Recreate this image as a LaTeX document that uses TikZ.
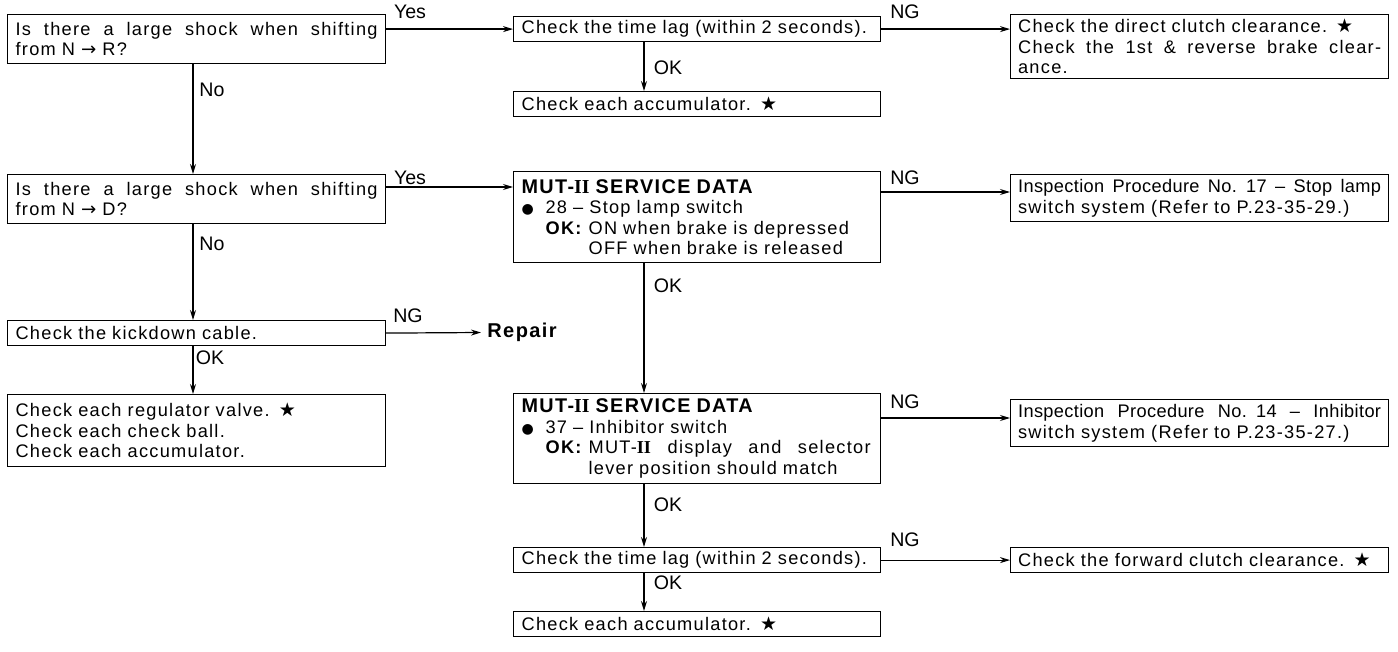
\documentclass[tikz,border=0pt]{standalone}
\usepackage{fontspec}
\setmainfont{Liberation Sans}[LetterSpace=7]
\newfontfamily\lblfont{Liberation Sans}
\newfontfamily\tightfont{Liberation Sans}[LetterSpace=2]
\newfontfamily\starfont{DejaVu Sans}
\newfontfamily\romfont{Liberation Serif}
\usetikzlibrary{arrows.meta,calc}
\newcommand\strk{{\starfont\fontsize{9.5pt}{10pt}\selectfont ★}}
\newcommand\rarr{{\starfont →}}
\newcommand\bul{{\starfont\fontsize{7pt}{8pt}\selectfont ●}}
\newcommand\jl[2]{\makebox[#1][s]{\spaceskip=\fontdimen2\font plus 1fil\relax #2}}
\newcommand\rom[1]{{\romfont\bfseries #1}}
\newcommand\mhead{{\fontsize{9.9pt}{10.25pt}\selectfont\bfseries MUT-\rom{II} SERVICE DATA}}
\begin{document}
\begin{tikzpicture}[x=0.5pt,y=-0.5pt,
  box/.style={draw, line width=0.6pt, anchor=north west, inner xsep=4pt, inner ysep=0pt,
    align=left, font=\fontsize{9.1pt}{10.25pt}\selectfont},
  boxL/.style={box, text width=181pt},
  boxM/.style={box, text width=175.5pt},
  boxR/.style={box, inner xsep=3.75pt, text width=181.5pt},
  arr/.style={line width=0.6pt, -{Stealth[length=5pt,width=3pt]}},
  lbl/.style={inner sep=0pt, font=\lblfont\fontsize{9.8pt}{11pt}\selectfont}]
\useasboundingbox (0,0) rectangle (1398,652);

% left column
\node[boxL, minimum height=24.5pt] (Q1) at (7,14)
  {\jl{181pt}{Is there a large shock when shifting}\\from N \rarr\ R?};
\node[boxL, minimum height=24.5pt] (Q2) at (7,174)
  {\jl{181pt}{Is there a large shock when shifting}\\from N \rarr\ D?};
\node[boxL, minimum height=12.5pt] (KD) at (7,320) {Check the kickdown cable.};
\node[boxL, minimum height=36pt] (REG) at (7,394)
  {Check each regulator valve. \strk\\Check each check ball.\\Check each accumulator.};
\node[inner xsep=3pt, inner ysep=0pt, anchor=west, font=\fontsize{10pt}{12pt}\selectfont\bfseries] (Rep) at (481,332.5) {Repair};

% middle column
\node[boxM, minimum height=12.5pt] (TL1) at (513,16) {Check the time lag (within 2 seconds).};
\node[boxM, minimum height=12.5pt] (ACC1) at (513,91) {Check each accumulator. \strk};
\node[boxM, minimum height=45.5pt] (MUT1) at (513,171)
  {\mhead\\
   \makebox[12pt][l]{\bul}28 – Stop lamp switch\\
   \hspace*{12pt}\makebox[21.5pt][l]{\textbf{OK:}}ON when brake is depressed\\
   \hspace*{33.5pt}OFF when brake is released};
\node[boxM, minimum height=45pt] (MUT2) at (513,393)
  {\mhead\\
   \makebox[12pt][l]{\bul}37 – Inhibitor switch\\
   \hspace*{12pt}\makebox[21.5pt][l]{\textbf{OK:}}\jl{141pt}{MUT-\rom{II} display and selector}\\
   \hspace*{33.5pt}lever position should match};
\node[boxM, minimum height=12.5pt] (TL2) at (513,547) {Check the time lag (within 2 seconds).};
\node[boxM, minimum height=12.5pt] (ACC2) at (513,611) {Check each accumulator. \strk};

% right column
\node[boxR, minimum height=32pt] (DC) at (1010,14)
  {Check the direct clutch clearance. \strk\\\jl{181.5pt}{Check the 1st \& reverse brake clear-}\\ance.};
\node[boxR, minimum height=23.5pt] (IP17) at (1010,174)
  {\jl{181.5pt}{\tightfont Inspection Procedure No. 17 – Stop lamp}\\switch system (Refer to P.23-35-29.)};
\node[boxR, minimum height=23.5pt] (IP14) at (1010,399)
  {\jl{181.5pt}{\tightfont Inspection Procedure No. 14 – Inhibitor}\\switch system (Refer to P.23-35-27.)};
\node[boxR, minimum height=12.5pt] (FC) at (1010,547) {Check the forward clutch clearance. \strk};

% helper coordinates
\coordinate (colA) at (193,0);
\coordinate (colB) at (644,0);
\coordinate (yq2) at (0,187);
\coordinate (ym1) at (0,192);
\coordinate (ym2) at (0,418);

% connectors
\draw[arr] (Q1.south -| colA) -- (Q2.north -| colA);
\draw[arr] (Q2.south -| colA) -- (KD.north -| colA);
\draw[arr] (KD.south -| colA) -- (REG.north -| colA);
\draw[arr] (KD.east) -- (Rep.west);
\draw[arr] (TL1.west -| Q1.east) -- (TL1.west);
\draw[arr] (TL1.east) -- (TL1.east -| DC.west);
\draw[arr] (TL1.south -| colB) -- (ACC1.north -| colB);
\draw[arr] (yq2 -| Q2.east) -- (yq2 -| MUT1.west);
\draw[arr] (ym1 -| MUT1.east) -- (ym1 -| IP17.west);
\draw[arr] (MUT1.south -| colB) -- (MUT2.north -| colB);
\draw[arr] (ym2 -| MUT2.east) -- (ym2 -| IP14.west);
\draw[arr] (MUT2.south -| colB) -- (TL2.north -| colB);
\draw[arr] (TL2.east) -- (FC.west);
\draw[arr] (TL2.south -| colB) -- (ACC2.north -| colB);

% labels
\node[lbl] (yes1) at (410,12) {Yes};
\node[lbl] (ng1) at (905,12) {NG};
\node[lbl] (no1) at (212,90) {No};
\node[lbl] (ok1) at (668,68) {OK};
\node[lbl] (yes2) at (410,178) {Yes};
\node[lbl] (ng2) at (905,178) {NG};
\node[lbl] (no2) at (212,244) {No};
\node[lbl] (ok2) at (668,286) {OK};
\node[lbl] (ng3) at (408,316) {NG};
\node[lbl] (ok3) at (210,358) {OK};
\node[lbl] (ng4) at (905,402) {NG};
\node[lbl] (ok4) at (668,505) {OK};
\node[lbl] (ng5) at (905,540) {NG};
\node[lbl] (ok5) at (668,583) {OK};
\end{tikzpicture}
\end{document}
